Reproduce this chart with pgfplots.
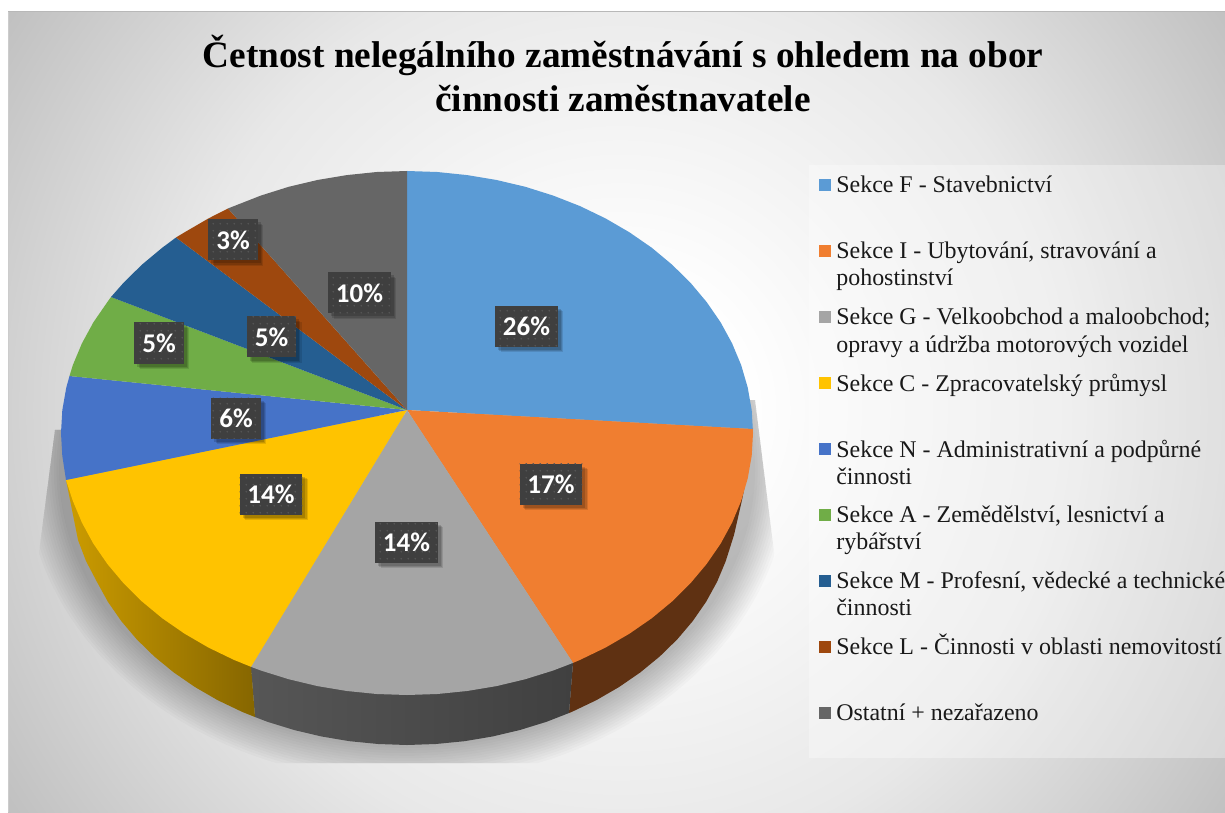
\documentclass[border=0pt]{standalone}
\usepackage{fontspec}
\setmainfont{Liberation Serif}
\newfontfamily\carlito{Carlito}
\usepackage{pgfplots}
\pgfplotsset{compat=1.18}
\usetikzlibrary{shadows,patterns.meta}
\definecolor{cA}{HTML}{5B9BD5}
\definecolor{cB}{HTML}{F07E30}
\definecolor{cC}{HTML}{A5A5A5}
\definecolor{cD}{HTML}{FFC300}
\definecolor{cE}{HTML}{4673C8}
\definecolor{cF}{HTML}{70AD47}
\definecolor{cG}{HTML}{255E91}
\definecolor{cH}{HTML}{9E480E}
\definecolor{cI}{HTML}{666666}
\definecolor{lab}{HTML}{3F3F3F}
\definecolor{labdot}{HTML}{575757}
\definecolor{wB}{HTML}{5F3112}
\definecolor{wCl}{HTML}{565656}
\definecolor{wCm}{HTML}{444444}
\definecolor{wCr}{HTML}{404040}
\definecolor{wDl}{HTML}{CC9C00}
\definecolor{wDr}{HTML}{866600}
\pgfdeclareradialshading{bgshade}{\pgfpoint{0bp}{0bp}}{%
  color(0bp)=(white);color(3.75bp)=(white);color(14bp)=(black!9);color(22.5bp)=(black!24);color(25bp)=(black!28);color(50bp)=(black!28)}
\newcommand{\legtext}[2]{\node[anchor=base west,inner sep=0pt,font=\fontsize{14.36}{14.36}\selectfont,text=black!90] at (axis cs:836,#1) {#2};}
\newcommand{\legmark}[2]{\addplot[only marks,mark=square*,mark size=3.5pt,mark options={fill=#1,draw=#1,line width=0pt,solid}] coordinates {(825,#2)};}
\begin{document}
\begin{tikzpicture}
\useasboundingbox (0,0) rectangle (735pt,487.2pt);
\fill[white] (0,0) rectangle (735pt,487.2pt);
\begin{scope}[shift={(0pt,487.2pt)},x=0.6pt,y=-0.6pt]
  \begin{scope}
    \clip (8,12) rectangle (1225,812);
    \shade[shading=bgshade] (620,410) circle [radius=480pt];
  \end{scope}
  \fill[black!28] (8,11) rectangle (1225,12.5);
  \fill[black!20] (8,12) rectangle (9,812);
  \begin{scope}
    \clip (55,430) -- (38,560) -- (38,763) -- (775,763) -- (775,560) -- (755,400) -- cycle;
    \foreach \k in {0,...,13}{
      \fill[black,opacity=0.018] (407,470) ellipse [x radius={(348+2.6*\k)*0.6pt}, y radius={(278+2.6*\k)*0.6pt}];
    }
  \end{scope}
  \fill[white,opacity=0.32] (809,165) rectangle (1225,758);
\end{scope}
\begin{axis}[at={(0,0)},anchor=south west,scale only axis,width=735pt,height=487.2pt,
  xmin=0,xmax=1225,ymin=0,ymax=812,y dir=reverse,hide axis,clip=false]
% side walls
\addplot[draw=none,fill=wB] coordinates {(748,470)(742,500)(734,535)(725.7,561.2)(717.1,581.8)(706.1,601.8)(692.8,621)(677.3,639.3)(659.8,656.4)(640.3,672.4)(619.1,687)(596.3,700.2)(572,711.8)(569,713)(573,662.9)(500,500)} --cycle;
\addplot[draw=none,left color=wCl,middle color=wCm,right color=wCr] coordinates {(573,662.9)(569,713)(546.5,721.8)(519.9,730)(492.4,736.5)(464.3,741.2)(435.8,744)(407,745)(378.2,744)(349.7,741.2)(321.6,736.5)(294.1,730)(267.5,721.8)(255,717)(251,666.8)(407,600)} --cycle;
\addplot[draw=none,left color=wDl,right color=wDr] coordinates {(251,666.8)(255,717)(242,711.8)(217.7,700.2)(194.9,687)(173.7,672.4)(154.2,656.4)(136.7,639.3)(121.2,621)(107.9,601.8)(96.9,581.8)(86,561)(78,540)(72,510)(66,480)(251,500)} --cycle;
% top surface slices
\addplot[draw=none,fill=cA] coordinates {(407,410)(407,171)(437.2,172)(467.1,175.1)(496.5,180)(525.3,186.8)(553.2,195.6)(580,206.1)(605.5,218.4)(629.4,232.3)(651.7,247.7)(672,264.6)(690.4,282.7)(706.6,302)(720.6,322.3)(732.1,343.4)(741.2,365.2)(747.7,387.5)(751.7,410.2)(752.8,429)} --cycle;
\addplot[draw=none,fill=cB] coordinates {(407,410)(752.8,429)(753,433)(751.7,455.8)(747.7,478.5)(741.2,500.8)(732.1,522.6)(720.6,543.7)(706.6,564)(690.4,583.3)(672,601.5)(651.7,618.3)(629.4,633.7)(605.5,647.6)(580,659.9)(573,662.9)} --cycle;
\addplot[draw=none,fill=cC] coordinates {(407,410)(573,662.9)(553.2,670.5)(525.3,679.2)(496.5,686.1)(467.1,691)(437.2,694)(407,695)(376.8,694)(346.9,691)(317.5,686.1)(288.7,679.2)(260.8,670.5)(251,666.8)} --cycle;
\addplot[draw=none,fill=cD] coordinates {(407,410)(251,666.8)(234,659.9)(208.5,647.6)(184.6,633.7)(162.3,618.3)(142,601.5)(123.6,583.3)(107.4,564)(93.4,543.7)(81.9,522.6)(72.8,500.8)(66,480)} --cycle;
\addplot[draw=none,fill=cE] coordinates {(407,410)(66,480)(62.3,455.8)(61,433)(62.3,410.2)(66.3,387.5)(69.5,376)} --cycle;
\addplot[draw=none,fill=cF] coordinates {(407,410)(69.5,376)(72.8,365.2)(81.9,343.4)(93.4,322.3)(107.4,302)(111,297)} --cycle;
\addplot[draw=none,fill=cG] coordinates {(407,410)(111,297)(123.6,282.7)(142,264.6)(162.3,247.7)(176,237.5)} --cycle;
\addplot[draw=none,fill=cH] coordinates {(407,410)(176,237.5)(184.6,232.3)(208.5,218.4)(228,208.5)} --cycle;
\addplot[draw=none,fill=cI] coordinates {(407,410)(228,208.5)(234,206.1)(260.8,195.6)(288.7,186.8)(317.5,180)(346.9,175.1)(376.8,172)(407,171)} --cycle;
% percentage labels
\addplot[draw=none,mark=none,point meta=explicit,
  nodes near coords={\pgfmathprintnumber[assume math mode=true]{\pgfplotspointmeta}\%},
  every node near coord/.style={anchor=center,font=\carlito\bfseries\fontsize{16.2}{16.2}\selectfont,text=white,
    draw=none,fill=lab,minimum height=24.6pt,inner xsep=4.7pt,inner ysep=0pt,
    drop shadow={shadow xshift=3.3pt,shadow yshift=-3.3pt,opacity=.11,fill=black,draw=none},
    drop shadow={shadow xshift=2.6pt,shadow yshift=-2.6pt,opacity=.13,fill=black,draw=none},
    drop shadow={shadow xshift=1.8pt,shadow yshift=-1.8pt,opacity=.15,fill=black,draw=none},
    postaction={pattern={Dots[radius=.55pt,distance=4pt]},pattern color=labdot}}]
 table[x=x,y=y,meta=v] {
x y v
526.5 326.5 26
551 484 17
406.5 542 14
271 494 14
236 418 6
159 343 5
271.5 337 5
233 240 3
359.5 293 10
};
% title
\node[anchor=base,inner sep=0pt,font=\fontsize{22.36}{22.36}\selectfont\bfseries] at (axis cs:623,68) {Četnost nelegálního zaměstnávání s ohledem na obor};
\node[anchor=base,inner sep=0pt,font=\fontsize{22.36}{22.36}\selectfont\bfseries] at (axis cs:623,112) {činnosti zaměstnavatele};
% legend
\legmark{cA}{185}
\legmark{cB}{251}
\legmark{cC}{317}
\legmark{cD}{383}
\legmark{cE}{449}
\legmark{cF}{515}
\legmark{cG}{581}
\legmark{cH}{647}
\legmark{cI}{713}
\legtext{193}{Sekce F - Stavebnictví}
\legtext{259}{Sekce I - Ubytování, stravování a}
\legtext{286}{pohostinství}
\legtext{325}{Sekce G - Velkoobchod a maloobchod;}
\legtext{352}{opravy a údržba motorových vozidel}
\legtext{391}{Sekce C - Zpracovatelský průmysl}
\legtext{457}{Sekce N - Administrativní a podpůrné}
\legtext{484}{činnosti}
\legtext{522}{Sekce A - Zemědělství, lesnictví a}
\legtext{549}{rybářství}
\legtext{588}{Sekce M - Profesní, vědecké a technické}
\legtext{615}{činnosti}
\legtext{654}{Sekce L - Činnosti v oblasti nemovitostí}
\legtext{720}{Ostatní + nezařazeno}
\end{axis}
\end{tikzpicture}
\end{document}
